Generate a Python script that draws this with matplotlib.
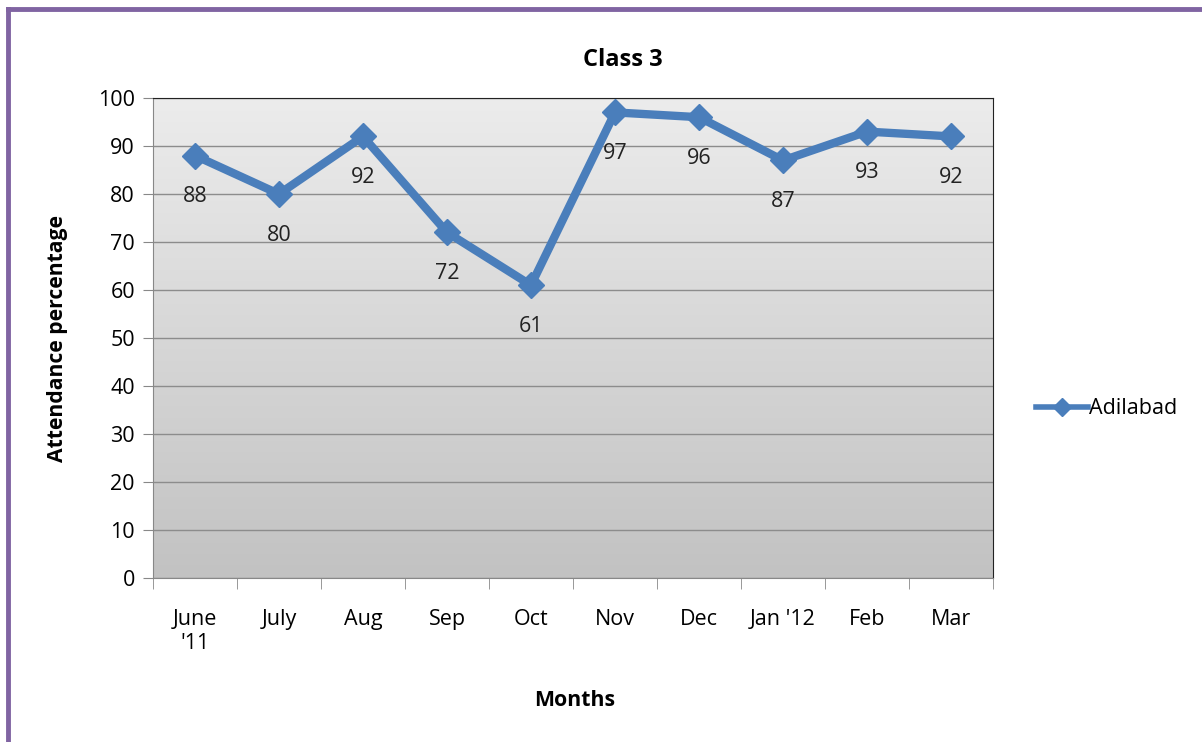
import matplotlib
matplotlib.use("Agg")
import matplotlib.pyplot as plt
import numpy as np
from matplotlib.lines import Line2D
from matplotlib.colors import LinearSegmentedColormap

plt.rcParams['font.family'] = ['Open Sans', 'DejaVu Sans']

months = ["June\n'11", "July", "Aug", "Sep", "Oct", "Nov", "Dec", "Jan '12", "Feb", "Mar"]
attendance = [88, 80, 92, 72, 61, 97, 96, 87, 93, 92]
series_name = "Adilabad"

blue = '#4A7EBB'

fig = plt.figure(figsize=(12.02, 7.42), dpi=100)
ax = fig.add_axes([153/1202, 1 - 578/742, (993-153)/1202, (578-98)/742])

# gradient background of the plot area
grad = np.linspace(0, 1, 256).reshape(-1, 1)
cmap = LinearSegmentedColormap.from_list('bg', ['#c2c2c2', '#ececec'])
ax.imshow(grad, cmap=cmap, origin='lower', extent=[0, 1, 0, 1], transform=ax.transAxes,
          aspect='auto', zorder=0)

x = np.arange(len(months))
ax.plot(x, attendance, color=blue, lw=6, marker='D', markersize=13,
        markeredgecolor=blue, zorder=3, solid_joinstyle='miter')
for xi, v in zip(x, attendance):
    ax.annotate(str(v), (xi, v), xytext=(0, -41), textcoords='offset pixels',
                ha='center', va='center', fontsize=15.5, color='#222222', zorder=4)

ax.set_xlim(-0.5, len(months) - 0.5)
ax.set_ylim(0, 100)
ax.set_yticks(range(0, 101, 10))
ax.tick_params(axis='y', labelsize=15.5, length=7, color='#888888', pad=6)
ax.set_xticks(x)
ax.set_xticklabels(months, fontsize=15.5, va='top')
ax.set_xticks(np.arange(-0.5, len(months), 1), minor=True)
ax.tick_params(axis='x', which='major', length=0, pad=22)
ax.tick_params(axis='x', which='minor', length=8, color='#888888')
ax.grid(axis='y', color='#8c8c8c', lw=1, zorder=1)
for s in ['left', 'bottom']:
    ax.spines[s].set_color('#888888')
for s in ['top', 'right']:
    ax.spines[s].set_color('#222222')

fig.text(623/1202, 1 - 60/742, 'Class 3', fontsize=17, fontweight='bold',
         ha='center', va='center')
fig.text(575/1202, 1 - 701/742, 'Months', fontsize=15.3, fontweight='bold',
         ha='center', va='center')
fig.text(58/1202, 1 - 338/742, 'Attendance percentage', fontsize=15.2, fontweight='bold',
         ha='center', va='center', rotation=90)

handle = Line2D([], [], color=blue, lw=4, marker='D', markersize=9, markeredgecolor=blue)
fig.legend([handle], [series_name], loc='center left', bbox_to_anchor=(1017/1202, 1 - 409/742),
           frameon=False, fontsize=15.5, handlelength=2.4, handletextpad=0.05)

# purple frame
frame = dict(color='#8064A2', lw=3.5, transform=fig.transFigure)
fig.add_artist(Line2D([8/1202, 8/1202], [0, 1 - 9/742], **frame))
fig.add_artist(Line2D([8/1202, 1], [1 - 9/742, 1 - 9/742], **frame))

fig.savefig('out.png', dpi=100)
